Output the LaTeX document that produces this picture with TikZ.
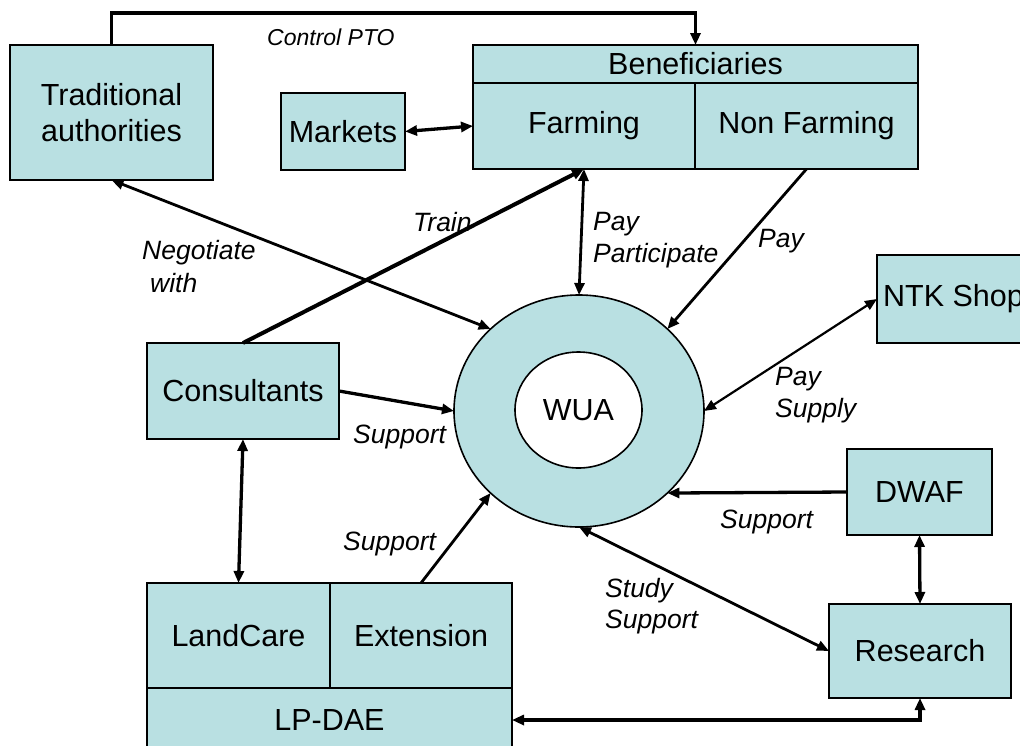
\documentclass[tikz,border=0pt]{standalone}
\usepackage{fontspec}
\setmainfont{Liberation Sans}
\usetikzlibrary{arrows.meta,shapes.geometric}
\definecolor{boxfill}{RGB}{185,224,226}
\begin{document}
\begin{tikzpicture}[x=1pt,y=-1pt,
  box/.style={draw=black,line width=1.6pt,fill=boxfill,rectangle,inner sep=0pt,outer sep=0pt,
    align=center,font=\fontsize{30.5}{36}\selectfont},
  conn/.style={line width=3.3pt},
  midconn/.style={line width=2.8pt},
  thinconn/.style={line width=2.2pt},
  lbl/.style={anchor=base west,inner sep=0pt,font=\fontsize{26.5}{31}\selectfont\itshape},
  >={Triangle[length=12pt,width=10pt]}]
\useasboundingbox (0,0) rectangle (1020,745);
\clip (0,0) rectangle (1020,745);
% boxes
\node[box,minimum width=203pt,minimum height=135pt] (trad) at (111.5,112.5) {Traditional\\authorities};
\node[box,minimum width=124pt,minimum height=77pt] (markets) at (343,131.5) {Markets};
\node[box,minimum width=445pt,minimum height=38pt] (benhead) at (695.5,64) {Beneficiaries};
\node[box,minimum width=222pt,minimum height=86pt] (farming) at (584,126) {Farming};
\node[box,minimum width=223pt,minimum height=86pt] (nonfarm) at (806.5,126) {Non Farming};
\node[box,minimum width=192pt,minimum height=96pt] (consult) at (243,391) {Consultants};
\node[box,minimum width=153pt,minimum height=88pt] (ntk) at (953.5,299) {NTK Shop};
\node[box,minimum width=145pt,minimum height=86pt] (dwaf) at (919.5,492) {DWAF};
\node[box,minimum width=182pt,minimum height=94pt] (research) at (920,651) {Research};
\node[box,minimum width=183pt,minimum height=105pt] (landcare) at (238.5,635.5) {LandCare};
\node[box,minimum width=182pt,minimum height=105pt] (ext) at (421,635.5) {Extension};
\node[box,minimum width=365pt,minimum height=64pt] (lpdae) at (329.5,720) {LP-DAE};
% WUA ring
\node[ellipse,draw=black,line width=1.6pt,fill=boxfill,inner sep=0pt,outer sep=0pt,
  minimum width=250pt,minimum height=232pt] (wua) at (579,411) {};
\node[ellipse,draw=black,line width=1.6pt,fill=white,inner sep=0pt,outer sep=0pt,
  minimum width=127pt,minimum height=116pt,font=\fontsize{30.5}{36}\selectfont] (wuain) at (578.5,410) {WUA};
% connectors
\coordinate (ctop) at (111.5,13);
\draw[conn,->] (trad.north) -- (trad.north |- ctop) -| (benhead.north);
\draw[conn,<->] (markets.east) -- (farming.west);
\draw[midconn,<->] (farming.south) -- (wua.north);
\draw[conn,line width=4pt,->] (consult.north) -- (farming.south);
\draw[midconn,<->] (trad.south) -- (wua.north west);
\draw[midconn,->] (nonfarm.south) -- (wua.north east);
\draw[conn,->] (consult.east) -- (wua.west);
\draw[midconn,->] (ext.north) -- (wua.south west);
\draw[conn,<->] (consult.south) -- (landcare.north);
\draw[thinconn,<->] (wua.east) -- (ntk.west);
\draw[conn,->] (dwaf.west) -- (wua.south east);
\draw[conn,<->] (dwaf.south) -- (research.north);
\draw[midconn,<->] (wua.south) -- (research.west);
\draw[conn,<->] (lpdae.east) -| (research.south);
% labels
\node[lbl,font=\fontsize{23}{27}\selectfont\itshape] (lctrl) at (267,45) {Control PTO};
\node[lbl] (lneg1) at (142,259) {Negotiate};
\node[lbl] (lneg2) at (150,292) {with};
\node[lbl] (ltrain) at (413,231) {Train};
\node[lbl] (lpay1) at (593,230) {Pay};
\node[lbl] (lpart) at (593,262) {Participate};
\node[lbl] (lpay2) at (758,247) {Pay};
\node[lbl] (lpay3) at (775,385) {Pay};
\node[lbl] (lsupply) at (775,417) {Supply};
\node[lbl] (lsup1) at (353,443) {Support};
\node[lbl] (lsup2) at (343,550) {Support};
\node[lbl] (lsup3) at (720,528) {Support};
\node[lbl] (lstudy) at (605,597) {Study};
\node[lbl] (lsup4) at (605,628) {Support};
\end{tikzpicture}
\end{document}
